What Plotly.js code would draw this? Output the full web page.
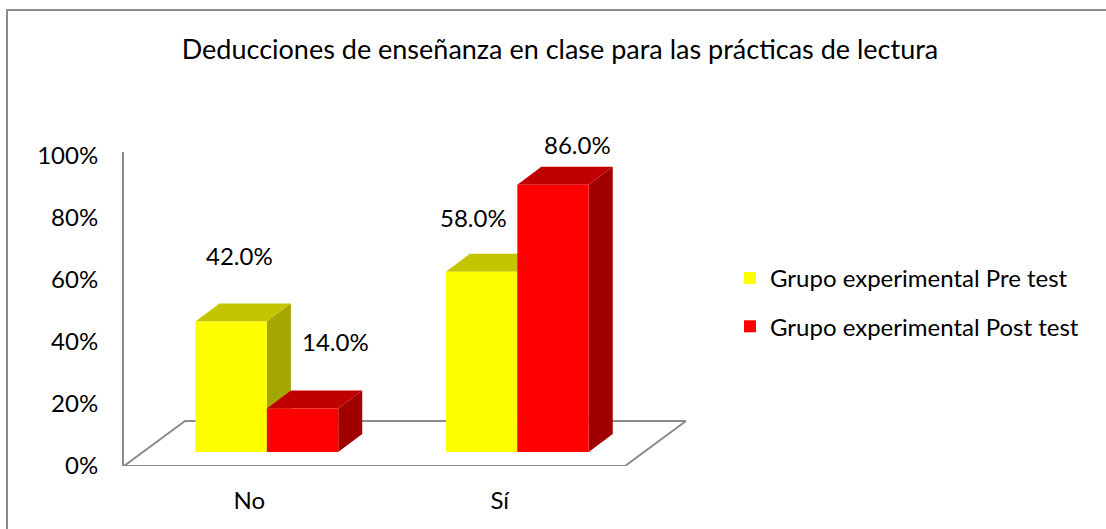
<!DOCTYPE html>
<html>
<head>
<meta charset="utf-8">
<script src="https://cdn.plot.ly/plotly-3.0.1.min.js"></script>
<style>
  html, body { margin:0; padding:0; background:#fff; }
  #wrap { position:relative; width:1106px; height:529px; overflow:hidden; }
  #chart { position:absolute; left:0; top:0; width:1106px; height:529px; }
  #frame { position:absolute; left:6px; top:9px; width:1200px; height:600px;
           border-left:2px solid #8c8c8c; border-top:2px solid #8c8c8c; pointer-events:none; }
</style>
</head>
<body>
<div id="wrap"><div id="chart"></div><div id="frame"></div></div>
<script>
// ---- data ----
const categories = ["No", "Sí"];
const seriesNames = ["Grupo experimental Pre test", "Grupo experimental Post test"];
const preTest = [42.0, 58.0];
const postTest = [14.0, 86.0];
const yTickVals = [0, 20, 40, 60, 80, 100];
const yTickText = ["0%", "20%", "40%", "60%", "80%", "100%"];
const chartTitle = "Deducciones de enseñanza en clase para las prácticas de lectura";

// ---- style ----
const FONT = "Lato, 'Open Sans', sans-serif";
const frontColors = ["#FFFF00", "#FF0000"];
const topColors = ["#C4C400", "#C00000"];
const sideColors = ["#A6A600", "#A00000"];
const axisGray = "#8c8c8c";

// geometry (pixels)
const W = 1106, H = 529;
const pxX = 250.5;                       // pixels per category unit
const plotL = 124, plotT = 152, plotB = 466;
const floorDXpx = 61, floorDYpx = 45;
const plotR = plotL + 2 * pxX + floorDXpx;
const yRange = [0, 101];
const pxY = (plotB - plotT) / (yRange[1] - yRange[0]);
const floorDX = floorDXpx / pxX, floorDY = floorDYpx / pxY;
const xRange = [-0.5, 1.5 + floorDX];
const barShiftX = 17.6 / pxX, barShiftY = 14 / pxY;
const depthX = 24 / pxX, depthY = 18 / pxY;
const bargap = 0.43;
const barW = (1 - bargap) / 2;
const frontX = [-0.5, 1.5];

const xs = categories.map((c, i) => i);
const series = [preTest, postTest];

const traces = series.map((vals, s) => ({
  type: "bar",
  name: seriesNames[s],
  x: xs,
  y: vals,
  xaxis: "x2",
  yaxis: "y2",
  marker: { color: frontColors[s], line: { width: 0 } },
  hoverinfo: "skip",
  legendgroup: "g" + s
}));

const shapes = [];
shapes.push({
  type: "path", xref: "x", yref: "y", layer: "below",
  path: `M${frontX[0]},0 L${frontX[1]},0 L${frontX[1] + floorDX},${floorDY} L${frontX[0] + floorDX},${floorDY} Z`,
  line: { color: axisGray, width: 2 }, fillcolor: "rgba(0,0,0,0)"
});
categories.forEach((c, i) => {
  series.forEach((vals, s) => {
    const v = vals[i];
    const xl = i - (s === 0 ? barW : 0);
    const xr = xl + barW;
    shapes.push({
      type: "path", xref: "x2", yref: "y2", layer: "below",
      path: `M${xl},${v} L${xr},${v} L${xr + depthX},${v + depthY} L${xl + depthX},${v + depthY} Z`,
      fillcolor: topColors[s], line: { width: 0 }
    });
    shapes.push({
      type: "path", xref: "x2", yref: "y2", layer: "below",
      path: `M${xr},0 L${xr},${v} L${xr + depthX},${v + depthY} L${xr + depthX},${depthY} Z`,
      fillcolor: sideColors[s], line: { width: 0 }
    });
  });
});

const labelDX = [[8, -8.5], [33, 24.5]];
const labelDY = [[66, 54], [67, 40]];
const annotations = [];
series.forEach((vals, s) => {
  vals.forEach((v, i) => {
    const xc = i - (s === 0 ? barW : 0) + barW / 2;
    annotations.push({
      x: xc, y: v, xref: "x2", yref: "y2",
      text: v.toFixed(1) + "%", showarrow: false,
      xshift: labelDX[s][i], yshift: labelDY[s][i],
      font: { family: FONT, size: 24, color: "#000" }
    });
  });
});

const layout = {
  width: W, height: H,
  margin: { l: plotL, r: W - plotR, t: plotT, b: H - plotB, pad: 0 },
  paper_bgcolor: "#fff", plot_bgcolor: "rgba(0,0,0,0)",
  title: {
    text: chartTitle, x: 560 / W, xanchor: "center", y: 1 - 50 / H, yanchor: "middle",
    font: { family: FONT, size: 27, color: "#000" }
  },
  barmode: "group", bargap: bargap, bargroupgap: 0,
  xaxis: {
    range: xRange, tickvals: xs, ticktext: categories, showgrid: false, zeroline: false,
    showline: false, ticks: "", ticklabelstandoff: 18,
    tickfont: { family: FONT, size: 24, color: "#000" }, fixedrange: true
  },
  yaxis: {
    range: yRange, tickvals: yTickVals, ticktext: yTickText, showgrid: false, zeroline: false,
    showline: true, linecolor: axisGray, linewidth: 2, ticks: "", ticklabelstandoff: 19,
    tickfont: { family: FONT, size: 24, color: "#000" }, fixedrange: true
  },
  xaxis2: { overlaying: "x", range: [xRange[0] - barShiftX, xRange[1] - barShiftX], visible: false, fixedrange: true },
  yaxis2: { overlaying: "y", range: [yRange[0] - barShiftY, yRange[1] - barShiftY], visible: false, fixedrange: true },
  showlegend: true,
  legend: {
    x: (730 - plotL) / (plotR - plotL), xanchor: "left", y: 1 - (256 - plotT) / (plotB - plotT), yanchor: "top",
    traceorder: "grouped", tracegroupgap: 14,
    font: { family: FONT, size: 24, color: "#000" }, bgcolor: "rgba(0,0,0,0)", borderwidth: 0
  },
  shapes: shapes,
  annotations: annotations
};

Plotly.newPlot("chart", traces, layout, { staticPlot: true, displayModeBar: false });
</script>
</body>
</html>
